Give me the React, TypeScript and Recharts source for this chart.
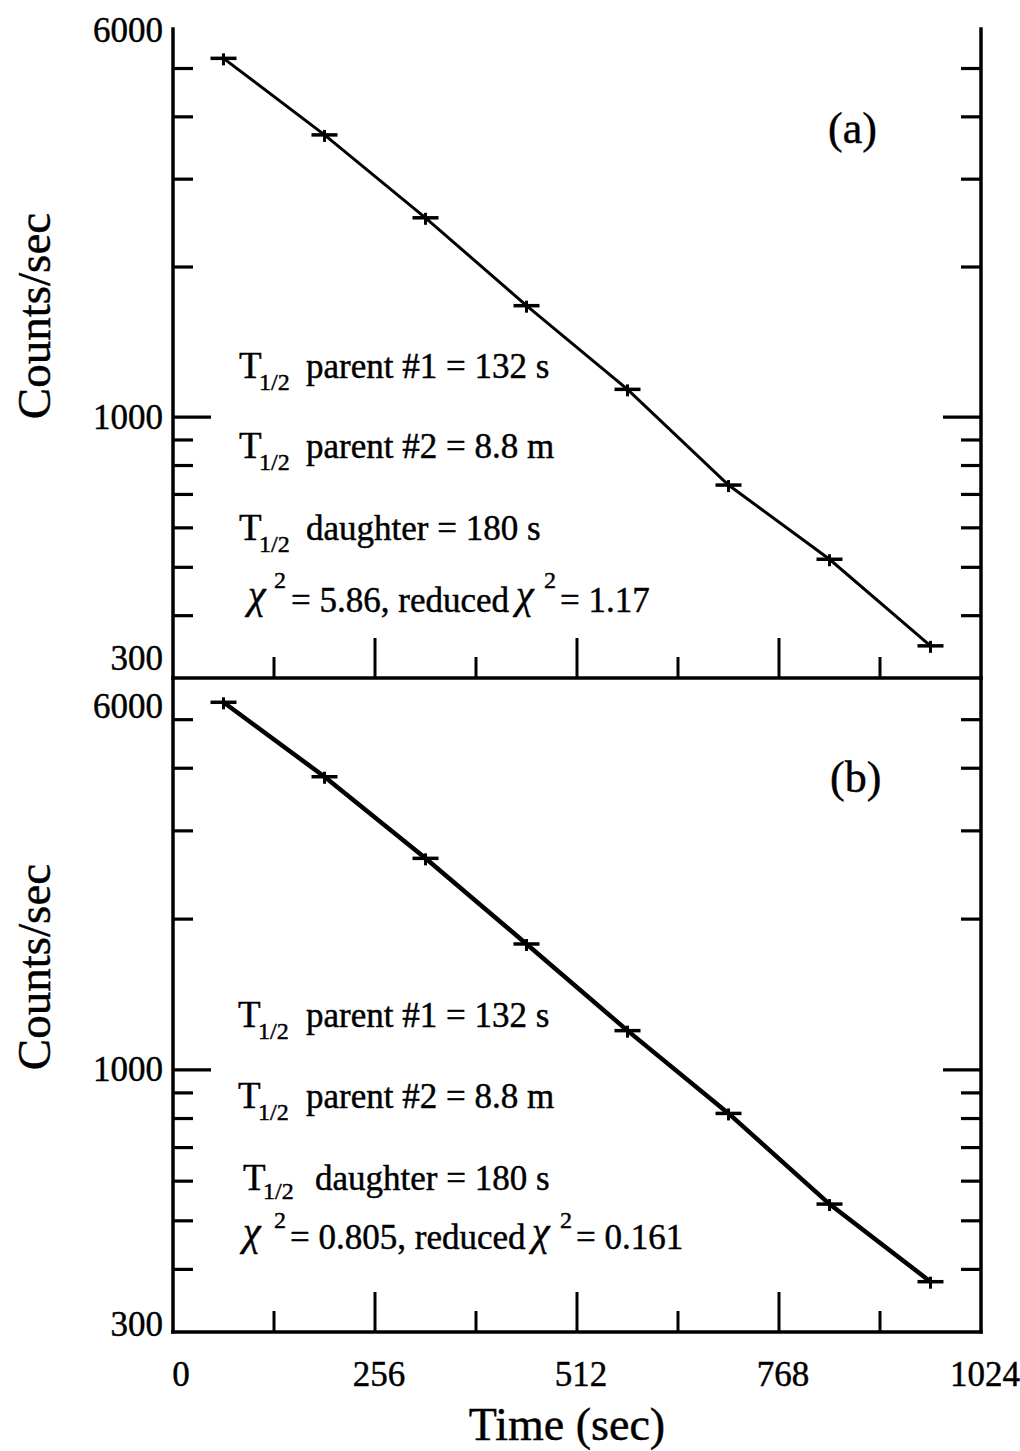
import React from 'react';
import { LineChart, Line, XAxis, YAxis } from 'recharts';

// ---- data ----
const timeSec = [64, 192, 320, 448, 576, 704, 832, 960];
const countsA = [5240, 3680, 2510, 1673, 1137, 731, 519, 348];
const countsB = [5416, 3847, 2644, 1784, 1198, 819, 540, 378];
const xTicks = [0, 128, 256, 384, 512, 640, 768, 896, 1024];
const xMajor = [256, 512, 768];
const xLabels = [0, 256, 512, 768, 1024];
const yTicks = [300, 400, 500, 600, 700, 800, 900, 1000, 2000, 3000, 4000, 5000, 6000];
const yLabels = [300, 1000, 6000];

const FONT = '"Liberation Serif", "Times New Roman", Times, serif';
const X_DOMAIN: [number, number] = [0, 1024];
const Y_DOMAIN: [number, number] = [300, 6000];

const dataA = timeSec.map((t, i) => ({ t, c: countsA[i] }));
const dataB = timeSec.map((t, i) => ({ t, c: countsB[i] }));

const AXIS_LINE = { stroke: '#000', strokeWidth: 3.5, strokeLinecap: 'square' as const };
const TXT = { fontFamily: FONT, fill: '#000', stroke: '#000', strokeWidth: 0.45 };

function LeftTick(props: any) {
  const { x, y, payload, labelDy } = props;
  const v = payload.value;
  const edge = v === 300 || v === 6000;
  const len = v === 1000 ? 38 : 20;
  return (
    <g>
      {!edge && <line x1={x} y1={y} x2={x + len} y2={y} stroke="#000" strokeWidth={3.2} />}
      {yLabels.includes(v) && (
        <text x={x - 10} y={y + labelDy[v]} textAnchor="end" fontSize={35} {...TXT}>
          {v}
        </text>
      )}
    </g>
  );
}

function RightTick(props: any) {
  const { x, y, payload } = props;
  const v = payload.value;
  if (v === 300 || v === 6000) return <g />;
  const len = v === 1000 ? 38 : 20;
  return <line x1={x} y1={y} x2={x - len} y2={y} stroke="#000" strokeWidth={3.2} />;
}

function BottomTick(props: any) {
  const { x, y, payload, showLabels } = props;
  const v = payload.value;
  const edge = v === 0 || v === 1024;
  const len = xMajor.includes(v) ? 40 : 21;
  return (
    <g>
      {!edge && <line x1={x} y1={y} x2={x} y2={y - len} stroke="#000" strokeWidth={3} />}
      {showLabels && xLabels.includes(v) && (
        <text x={x + (v === 0 ? 8 : 4)} y={y + 54} textAnchor="middle" fontSize={35} {...TXT}>
          {v}
        </text>
      )}
    </g>
  );
}

function TopTick(props: any) {
  const { x, y, payload } = props;
  const v = payload.value;
  if (v === 0 || v === 1024) return <g />;
  const len = xMajor.includes(v) ? 40 : 20;
  return <line x1={x} y1={y} x2={x} y2={y + len} stroke="#000" strokeWidth={3} />;
}

function CrossDot(props: any) {
  const { cx, cy, index } = props;
  if (cx == null || cy == null) return <g key={`d${index}`} />;
  return (
    <g key={`d${index}`}>
      <line x1={cx - 13} y1={cy} x2={cx + 13} y2={cy} stroke="#000" strokeWidth={3.5} />
      <line x1={cx} y1={cy - 5} x2={cx} y2={cy + 7} stroke="#000" strokeWidth={3} />
    </g>
  );
}

function Panel(props: {
  data: { t: number; c: number }[];
  height: number;
  marginTop: number;
  bottomHeight: number;
  labelDy: Record<number, number>;
  showXLabels: boolean;
  topTicks: boolean;
  lineWidth: number;
}) {
  const { data, height, marginTop, bottomHeight, labelDy, showXLabels, topTicks, lineWidth } = props;
  return (
    <LineChart width={1020} height={height} data={data} margin={{ top: marginTop, right: 0, bottom: 0, left: 0 }}>
      <XAxis
        xAxisId="bx"
        dataKey="t"
        type="number"
        domain={X_DOMAIN}
        allowDataOverflow
        ticks={xTicks}
        interval={0}
        height={bottomHeight}
        tickSize={0}
        tickMargin={0}
        tickLine={false}
        axisLine={AXIS_LINE}
        tick={(p: any) => <BottomTick {...p} showLabels={showXLabels} />}
      />
      <XAxis
        xAxisId="tx"
        orientation="top"
        type="number"
        domain={X_DOMAIN}
        allowDataOverflow
        ticks={xTicks}
        interval={0}
        height={0}
        tickSize={0}
        tickMargin={0}
        tickLine={false}
        axisLine={AXIS_LINE}
        tick={topTicks ? (p: any) => <TopTick {...p} /> : false}
      />
      <YAxis
        yAxisId="l"
        scale="log"
        type="number"
        domain={Y_DOMAIN}
        allowDataOverflow
        ticks={yTicks}
        interval={0}
        width={173}
        tickSize={0}
        tickMargin={0}
        tickLine={false}
        axisLine={AXIS_LINE}
        tick={(p: any) => <LeftTick {...p} labelDy={labelDy} />}
      />
      <YAxis
        yAxisId="r"
        orientation="right"
        scale="log"
        type="number"
        domain={Y_DOMAIN}
        allowDataOverflow
        ticks={yTicks}
        interval={0}
        width={39}
        tickSize={0}
        tickMargin={0}
        tickLine={false}
        axisLine={AXIS_LINE}
        tick={(p: any) => <RightTick {...p} />}
      />
      <Line
        xAxisId="bx"
        yAxisId="l"
        type="linear"
        dataKey="c"
        stroke="#000"
        strokeWidth={lineWidth}
        dot={(p: any) => <CrossDot {...p} />}
        activeDot={false}
        isAnimationActive={false}
      />
    </LineChart>
  );
}

function HalfLife(props: { tx: number; wx: number; y: number; rest: string; subDy?: number }) {
  const { tx, wx, y, rest } = props;
  const subDy = props.subDy ?? 12;
  return (
    <text y={y} fontSize={35} {...TXT}>
      <tspan x={tx} fontSize={37}>T</tspan>
      <tspan x={tx + 20} dy={subDy} fontSize={24}>1/2</tspan>
      <tspan x={wx} dy={-subDy}>{rest}</tspan>
    </text>
  );
}

function ChiLine(props: {
  y: number; cx: number; s1: number; e1: number; mid: string; cx2: number; s2: number; e2: number; tail: string; supDy: number;
}) {
  const { y, cx, s1, e1, mid, cx2, s2, e2, tail, supDy } = props;
  return (
    <text y={y} fontSize={35} {...TXT}>
      <tspan x={cx} dy={-4} fontSize={40} fontStyle="italic">χ</tspan>
      <tspan x={s1} dy={supDy + 4} fontSize={24}>2</tspan>
      <tspan x={e1} dy={-supDy}>{mid}</tspan>
      <tspan x={cx2} dy={-4} fontSize={40} fontStyle="italic">χ</tspan>
      <tspan x={s2} dy={supDy + 4} fontSize={24}>2</tspan>
      <tspan x={e2} dy={-supDy}>{tail}</tspan>
    </text>
  );
}

export default function App() {
  return (
    <div style={{ position: 'absolute', left: 0, top: 0, width: 1020, height: 1451, background: '#fff', overflow: 'hidden' }}>
      <div style={{ position: 'absolute', left: 0, top: 0 }}>
        <Panel
          data={dataA}
          height={700}
          marginTop={29}
          bottomHeight={22}
          labelDy={{ 6000: 13, 1000: 12, 300: -8 }}
          showXLabels={false}
          topTicks={true}
          lineWidth={3}
        />
      </div>
      <div style={{ position: 'absolute', left: 0, top: 660 }}>
        <Panel
          data={dataB}
          height={791}
          marginTop={20}
          bottomHeight={119}
          labelDy={{ 6000: 38, 1000: 11, 300: 4 }}
          showXLabels={true}
          topTicks={false}
          lineWidth={4.5}
        />
      </div>
      <svg
        width={1020}
        height={1451}
        style={{ position: 'absolute', left: 0, top: 0, pointerEvents: 'none' }}
      >
        {/* axis titles */}
        <text x={50} y={316} transform="rotate(-90 50 316)" textAnchor="middle" fontSize={47} {...TXT}>
          Counts/sec
        </text>
        <text x={50} y={967} transform="rotate(-90 50 967)" textAnchor="middle" fontSize={47} {...TXT}>
          Counts/sec
        </text>
        <text x={567} y={1440} textAnchor="middle" fontSize={46} {...TXT}>
          Time (sec)
        </text>
        {/* panel tags */}
        <text x={828} y={143} fontSize={44} {...TXT}>(a)</text>
        <text x={830} y={792} fontSize={44} {...TXT}>(b)</text>
        {/* panel (a) annotations */}
        <HalfLife tx={239} wx={306} y={378} rest="parent #1 = 132 s" />
        <HalfLife tx={239} wx={306} y={458} rest="parent #2 = 8.8 m" />
        <HalfLife tx={239} wx={306} y={540} rest="daughter = 180 s" />
        <ChiLine y={612} cx={248} s1={274} e1={291} mid="= 5.86, reduced" cx2={516} s2={544} e2={560} tail="= 1.17" supDy={-24} />
        {/* panel (b) annotations */}
        <HalfLife tx={238} wx={306} y={1027} rest="parent #1 = 132 s" />
        <HalfLife tx={238} wx={306} y={1108} rest="parent #2 = 8.8 m" />
        <HalfLife tx={243} wx={315} y={1190} rest="daughter = 180 s" subDy={9} />
        <ChiLine y={1249} cx={243} s1={274} e1={290} mid="= 0.805, reduced" cx2={532} s2={560} e2={576} tail="= 0.161" supDy={-21} />
      </svg>
    </div>
  );
}
